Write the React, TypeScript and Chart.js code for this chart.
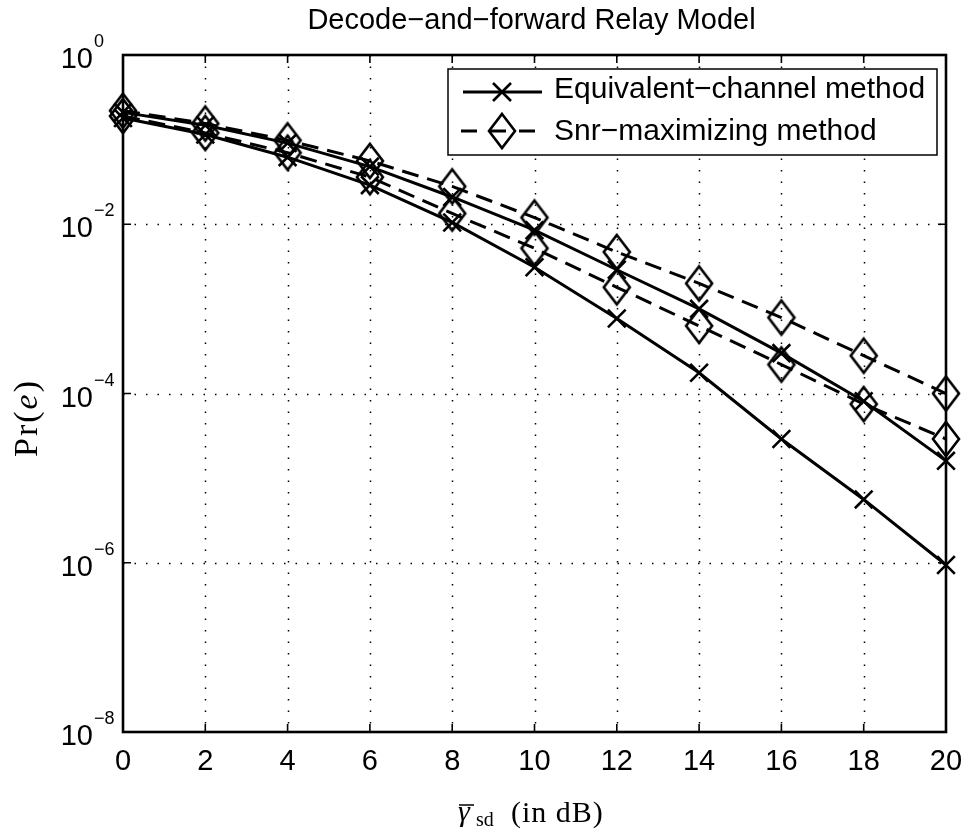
import React, { useEffect, useRef } from 'react';
import { Chart, registerables } from 'chart.js';

Chart.register(...registerables);

// ---- data ----
const snrDb = [0, 2, 4, 6, 8, 10, 12, 14, 16, 18, 20];
const eqUpper = [0.21, 0.148, 0.091, 0.048, 0.021, 0.0085, 0.0029, 0.001, 0.0003, 0.000081, 0.000016];
const eqLower = [0.18, 0.115, 0.062, 0.029, 0.0105, 0.0031, 0.00077, 0.000176, 0.000029, 0.0000056, 0.00000094];
const snrUpper = [0.22, 0.155, 0.098, 0.056, 0.028, 0.012, 0.0047, 0.002, 0.00079, 0.00028, 0.0001];
const snrLower = [0.19, 0.12, 0.07, 0.036, 0.0134, 0.0052, 0.0018, 0.00063, 0.00022, 0.000075, 0.000029];

const xTicks = [0, 2, 4, 6, 8, 10, 12, 14, 16, 18, 20];
const yTickExps = [0, -2, -4, -6, -8];
const titleText = 'Decode\u2212and\u2212forward Relay Model';
const legendLabels = ['Equivalent\u2212channel method', 'Snr\u2212maximizing method'];

const SANS = '"Liberation Sans", Arial, Helvetica, sans-serif';
const SERIF = '"Liberation Serif", "Times New Roman", serif';

function makeDiamond(): HTMLCanvasElement {
  const c = document.createElement('canvas');
  c.width = 32;
  c.height = 40;
  const g = c.getContext('2d')!;
  g.strokeStyle = '#000';
  g.lineWidth = 2.6;
  g.lineJoin = 'miter';
  g.beginPath();
  g.moveTo(16, 3);
  g.lineTo(29, 20);
  g.lineTo(16, 37);
  g.lineTo(3, 20);
  g.closePath();
  g.stroke();
  return c;
}

function toPoints(arr: number[]) {
  return snrDb.map((x, i) => ({ x, y: arr[i] }));
}

export default function App() {
  const ref = useRef<HTMLCanvasElement | null>(null);

  useEffect(() => {
    if (!ref.current) return;
    const diamond = makeDiamond();

    const decor = {
      id: 'matlabDecor',
      beforeDatasetsDraw(chart: any) {
        const { ctx, chartArea: a, scales } = chart;
        const xs = scales.x;
        const ys = scales.y;
        ctx.save();
        // dotted grid
        ctx.strokeStyle = '#000';
        ctx.lineWidth = 1.5;
        ctx.setLineDash([1.5, 10]);
        xTicks.forEach((t) => {
          if (t === 0 || t === 20) return;
          const px = Math.round(xs.getPixelForValue(t)) + 0.5;
          ctx.beginPath();
          ctx.moveTo(px, a.top);
          ctx.lineTo(px, a.bottom);
          ctx.stroke();
        });
        yTickExps.forEach((e) => {
          if (e === 0 || e === -8) return;
          const py = Math.round(ys.getPixelForValue(Math.pow(10, e))) + 0.5;
          ctx.beginPath();
          ctx.moveTo(a.left, py);
          ctx.lineTo(a.right, py);
          ctx.stroke();
        });
        ctx.setLineDash([]);
        // ticks (inward)
        ctx.lineWidth = 1.6;
        xTicks.forEach((t) => {
          const px = xs.getPixelForValue(t);
          ctx.beginPath();
          ctx.moveTo(px, a.bottom);
          ctx.lineTo(px, a.bottom - 8);
          ctx.moveTo(px, a.top);
          ctx.lineTo(px, a.top + 8);
          ctx.stroke();
        });
        yTickExps.forEach((e) => {
          const py = ys.getPixelForValue(Math.pow(10, e));
          ctx.beginPath();
          ctx.moveTo(a.left, py);
          ctx.lineTo(a.left + 8, py);
          ctx.moveTo(a.right, py);
          ctx.lineTo(a.right - 8, py);
          ctx.stroke();
        });
        // box
        ctx.lineWidth = 2.6;
        ctx.strokeRect(a.left, a.top, a.right - a.left, a.bottom - a.top);
        ctx.restore();
      },
      afterDraw(chart: any) {
        const { ctx, chartArea: a, scales } = chart;
        const xs = scales.x;
        const ys = scales.y;
        ctx.save();
        ctx.fillStyle = '#000';
        // x tick labels
        ctx.font = `29px ${SANS}`;
        ctx.textAlign = 'center';
        ctx.textBaseline = 'alphabetic';
        xTicks.forEach((t) => {
          ctx.fillText(String(t), xs.getPixelForValue(t), a.bottom + 38);
        });
        // y tick labels 10^e
        yTickExps.forEach((e) => {
          const py = ys.getPixelForValue(Math.pow(10, e));
          ctx.font = `29px ${SANS}`;
          ctx.textAlign = 'right';
          ctx.fillText('10', 93, py + 13);
          ctx.font = `18px ${SANS}`;
          ctx.textAlign = 'left';
          const sup = e === 0 ? '0' : '\u2212' + String(-e);
          ctx.fillText(sup, 94, py - 8);
        });
        // title
        ctx.font = `29px ${SANS}`;
        ctx.textAlign = 'center';
        ctx.fillText(titleText, (a.left + a.right) / 2 - 3, 29);

        // y axis label Pr(e)
        ctx.save();
        ctx.translate(37, 418);
        ctx.rotate(-Math.PI / 2);
        (ctx as any).letterSpacing = '2px';
        ctx.textAlign = 'left';
        const f1 = `34px ${SERIF}`;
        const f2 = `italic 34px ${SERIF}`;
        ctx.font = f1;
        const w1 = ctx.measureText('Pr(').width;
        ctx.font = f2;
        const w2 = ctx.measureText('e').width;
        ctx.font = f1;
        const w3 = ctx.measureText(')').width;
        let sx = -(w1 + w2 + w3) / 2;
        ctx.font = f1;
        ctx.fillText('Pr(', sx, 0);
        sx += w1;
        ctx.font = f2;
        ctx.fillText('e', sx, 0);
        sx += w2;
        ctx.font = f1;
        ctx.fillText(')', sx, 0);
        ctx.restore();

        // x axis label  γ̄_sd (in dB)
        ctx.save();
        ctx.textAlign = 'left';
        ctx.font = `italic 30px ${SERIF}`;
        ctx.fillText('\u03b3', 458, 821);
        ctx.lineWidth = 1.5;
        ctx.beginPath();
        ctx.moveTo(459, 805);
        ctx.lineTo(474, 805);
        ctx.stroke();
        ctx.font = `20px ${SERIF}`;
        ctx.fillText('sd', 476, 826);
        (ctx as any).letterSpacing = '1px';
        ctx.font = `30px ${SERIF}`;
        ctx.fillText('(in dB)', 511, 822);
        ctx.restore();

        // legend
        const lx = 448, ly = 69, lw = 489, lh = 86;
        ctx.fillStyle = '#fff';
        ctx.fillRect(lx, ly, lw, lh);
        ctx.strokeStyle = '#000';
        ctx.lineWidth = 1.5;
        ctx.strokeRect(lx, ly, lw, lh);
        // row 1
        ctx.lineWidth = 3;
        ctx.beginPath();
        ctx.moveTo(463, 92);
        ctx.lineTo(542, 92);
        ctx.stroke();
        ctx.lineWidth = 2.6;
        ctx.beginPath();
        ctx.moveTo(502 - 9, 92 - 9);
        ctx.lineTo(502 + 9, 92 + 9);
        ctx.moveTo(502 - 9, 92 + 9);
        ctx.lineTo(502 + 9, 92 - 9);
        ctx.stroke();
        // row 2
        ctx.lineWidth = 3;
        ctx.setLineDash([16, 13]);
        ctx.beginPath();
        ctx.moveTo(461, 131);
        ctx.lineTo(541, 131);
        ctx.stroke();
        ctx.setLineDash([]);
        ctx.drawImage(diamond, 502 - diamond.width / 2, 131 - diamond.height / 2);
        ctx.fillStyle = '#000';
        ctx.font = `30px ${SANS}`;
        ctx.textAlign = 'left';
        ctx.fillText(legendLabels[0], 554, 98);
        ctx.fillText(legendLabels[1], 554, 140);
        ctx.restore();
      },
    };

    const solid = (arr: number[]) => ({
      data: toPoints(arr),
      borderColor: '#000',
      backgroundColor: '#000',
      borderWidth: 3,
      pointStyle: 'crossRot' as const,
      pointRadius: 12.5,
      pointBorderWidth: 2.6,
      pointBorderColor: '#000',
      tension: 0,
      clip: false as const,
    });
    const dashed = (arr: number[]) => ({
      data: toPoints(arr),
      borderColor: '#000',
      backgroundColor: '#000',
      borderWidth: 3,
      borderDash: [17, 9],
      pointStyle: diamond as any,
      pointRadius: 14,
      tension: 0,
      clip: false as const,
    });

    const chart = new Chart(ref.current, {
      type: 'line',
      data: {
        datasets: [solid(eqUpper), solid(eqLower), dashed(snrUpper), dashed(snrLower)] as any,
      },
      options: {
        animation: false,
        responsive: false,
        devicePixelRatio: 1,
        layout: { padding: { top: 55, right: 22, left: 0, bottom: 0 } },
        plugins: {
          legend: { display: false },
          title: { display: false },
          tooltip: { enabled: false },
        },
        scales: {
          x: {
            type: 'linear',
            min: 0,
            max: 20,
            grid: { display: false },
            border: { display: false },
            ticks: { display: false, stepSize: 2 },
            afterFit: (s: any) => {
              s.height = 107;
            },
          },
          y: {
            type: 'logarithmic',
            min: 1e-8,
            max: 1,
            grid: { display: false },
            border: { display: false },
            ticks: { display: false },
            afterFit: (s: any) => {
              s.width = 123;
            },
          },
        },
      } as any,
      plugins: [decor],
    });
    return () => chart.destroy();
  }, []);

  return (
    <div style={{ position: 'absolute', left: 0, top: 0, width: 968, height: 839, background: '#fff' }}>
      <canvas ref={ref} width={968} height={839} style={{ width: 968, height: 839, display: 'block' }} />
    </div>
  );
}
